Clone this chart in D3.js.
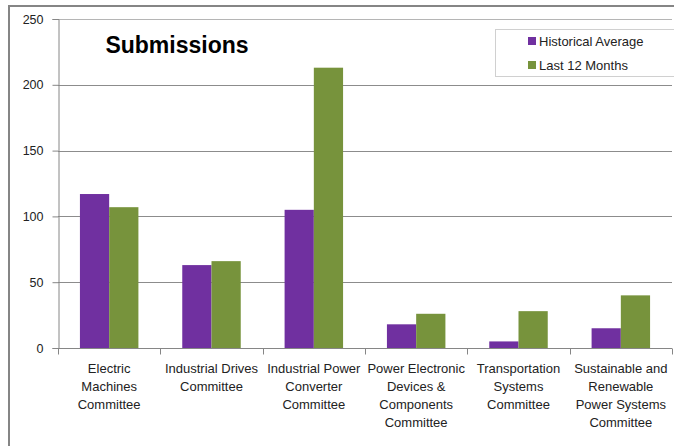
<!DOCTYPE html>
<html>
<head>
<meta charset="utf-8">
<script src="https://cdn.jsdelivr.net/npm/d3@7"></script>
<style>
  body { margin: 0; background: #fff; }
  svg { display: block; font-family: "Liberation Sans", Arial, sans-serif; }
</style>
</head>
<body>
<svg id="chart" width="674" height="446"></svg>
<script>
const categories = [
  ["Electric", "Machines", "Committee"],
  ["Industrial Drives", "Committee"],
  ["Industrial Power", "Converter", "Committee"],
  ["Power Electronic", "Devices &", "Components", "Committee"],
  ["Transportation", "Systems", "Committee"],
  ["Sustainable and", "Renewable", "Power Systems", "Committee"]
];
const seriesNames = ["Historical Average", "Last 12 Months"];
const historical = [117, 63, 105, 18, 5, 15];
const last12 = [107, 66, 213, 26, 28, 40];
const yTicks = [0, 50, 100, 150, 200, 250];
const colors = ["#7030A0", "#77933C"];

const svg = d3.select("#chart");
const margin = { left: 58, right: 2, top: 19, bottom: 98 };
const W = 674, H = 446;

// outer chart border (right/bottom clipped off in the original)
svg.append("path")
  .attr("d", "M9,446 L9,6 L674,6")
  .attr("fill", "none")
  .attr("stroke", "#858585")
  .attr("stroke-width", 2);

const x = d3.scaleBand()
  .domain(d3.range(categories.length))
  .range([margin.left, W - margin.right])
  .padding(0);

const y = d3.scaleLinear()
  .domain([0, 250])
  .range([H - margin.bottom, margin.top]);

const inner = d3.scaleBand()
  .domain([0, 1])
  .range([0, x.bandwidth()])
  .paddingInner(0)
  .paddingOuter(0.75);

// gridlines
svg.append("g")
  .selectAll("line")
  .data(yTicks.filter(d => d > 0))
  .join("line")
  .attr("x1", margin.left)
  .attr("x2", W - margin.right)
  .attr("y1", d => Math.round(y(d)) + 0.5)
  .attr("y2", d => Math.round(y(d)) + 0.5)
  .attr("stroke", d => d === 250 ? "#b5b5b5" : "#8c8c8c")
  .attr("stroke-width", 1);

// bars
const series = [historical, last12];
series.forEach((vals, si) => {
  svg.append("g")
    .selectAll("rect")
    .data(vals)
    .join("rect")
    .attr("x", (d, i) => x(i) + inner(si))
    .attr("width", inner.bandwidth())
    .attr("y", d => y(d))
    .attr("height", d => y(0) - y(d))
    .attr("fill", colors[si]);
});

// y axis
const yAxis = svg.append("g")
  .attr("transform", `translate(${margin.left + 0.5},0)`)
  .call(d3.axisLeft(y).tickValues(yTicks).tickSize(6).tickPadding(9));
yAxis.select(".domain").attr("stroke", "#868686");
yAxis.selectAll(".tick line").attr("stroke", "#868686");
yAxis.selectAll(".tick text")
  .attr("font-size", "12.5px")
  .attr("fill", "#222")
  .attr("font-family", "Liberation Sans, Arial, sans-serif");

// x axis line + boundary ticks
const y0 = Math.round(y(0)) + 0.5;
svg.append("line")
  .attr("x1", margin.left).attr("x2", W - margin.right)
  .attr("y1", y0).attr("y2", y0)
  .attr("stroke", "#868686");
svg.append("g")
  .selectAll("line")
  .data(d3.range(categories.length + 1))
  .join("line")
  .attr("x1", i => Math.round(margin.left + i * x.bandwidth()) + 0.5)
  .attr("x2", i => Math.round(margin.left + i * x.bandwidth()) + 0.5)
  .attr("y1", y0)
  .attr("y2", y0 + 6)
  .attr("stroke", "#868686");

// category labels
svg.append("g")
  .selectAll("text")
  .data(categories)
  .join("text")
  .attr("text-anchor", "middle")
  .attr("font-size", "13px")
  .attr("fill", "#222")
  .each(function (lines, i) {
    d3.select(this).selectAll("tspan")
      .data(lines)
      .join("tspan")
      .attr("x", x(i) + x.bandwidth() / 2)
      .attr("y", (d, j) => 373 + j * 18)
      .text(d => d);
  });

// title
svg.append("text")
  .attr("x", 177)
  .attr("y", 53)
  .attr("text-anchor", "middle")
  .attr("font-size", "23px")
  .attr("font-weight", "bold")
  .attr("fill", "#000")
  .text("Submissions");

// legend
const legend = svg.append("g");
legend.append("rect")
  .attr("x", 495.5).attr("y", 29.5)
  .attr("width", 180).attr("height", 47)
  .attr("fill", "#fff")
  .attr("stroke", "#d0d0d0");
seriesNames.forEach((name, i) => {
  legend.append("rect")
    .attr("x", 528).attr("y", 37 + i * 24)
    .attr("width", 8).attr("height", 8)
    .attr("fill", colors[i]);
  legend.append("text")
    .attr("x", 539).attr("y", 46 + i * 24)
    .attr("font-size", "13px")
    .attr("fill", "#222")
    .text(name);
});
</script>
</body>
</html>
